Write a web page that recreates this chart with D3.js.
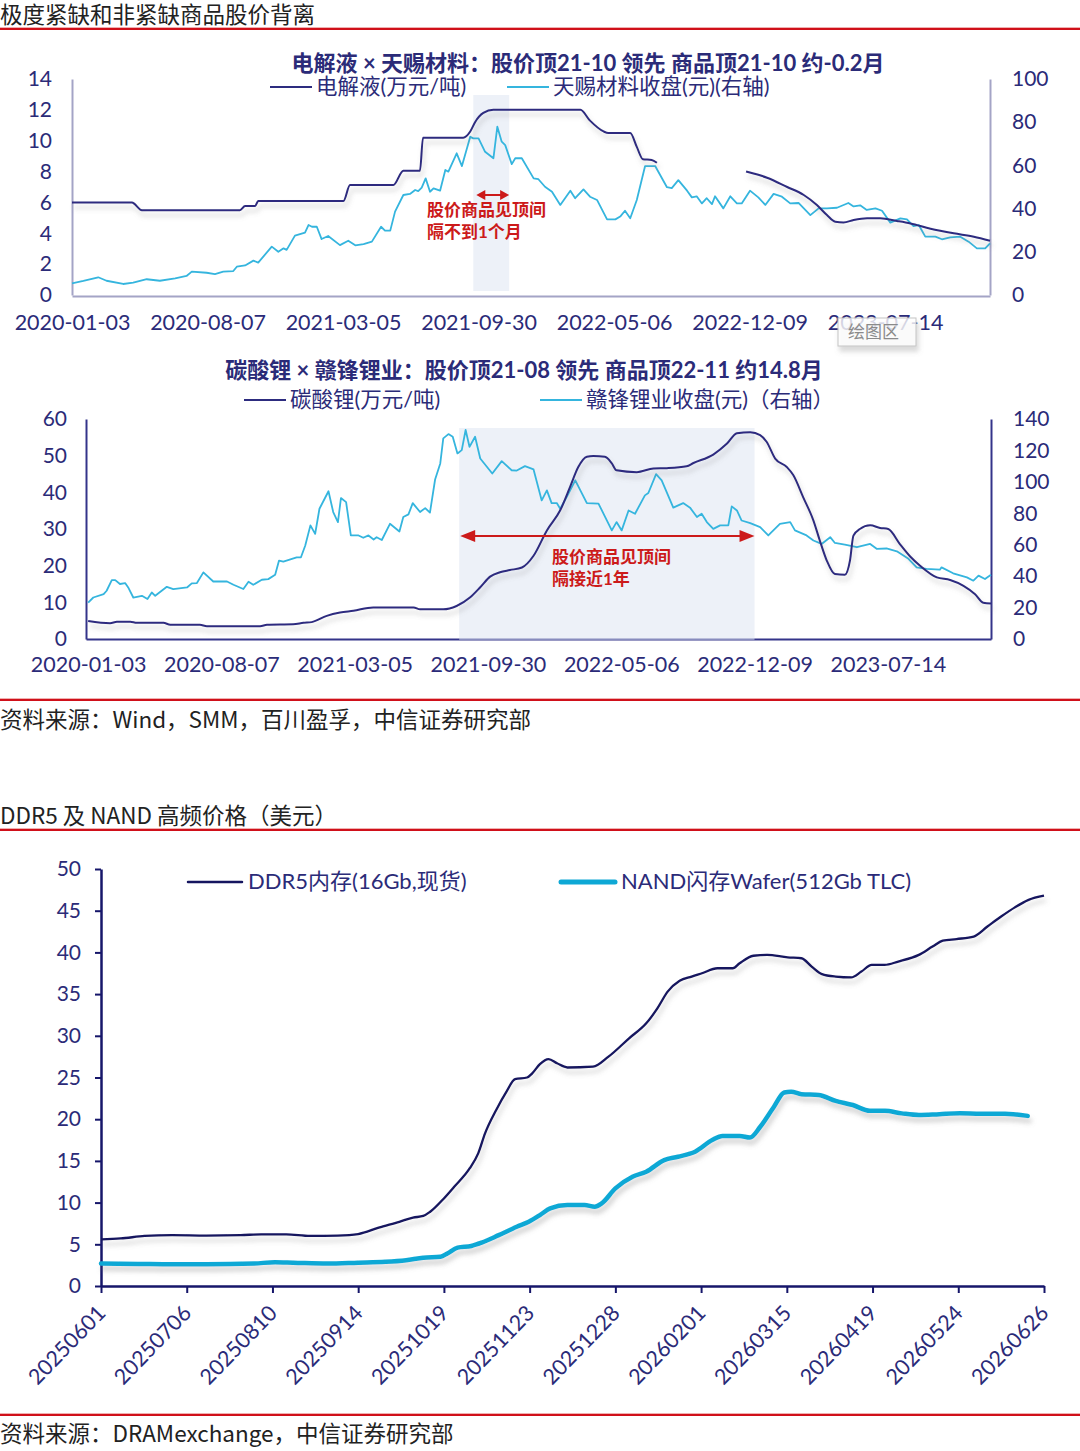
<!DOCTYPE html>
<html>
<head>
<meta charset="utf-8">
<script src="https://cdn.jsdelivr.net/npm/d3@7"></script>
<style>
body { margin: 0; background: #fff; }
svg { display: block; font-family: Lato, "Noto Sans CJK SC", sans-serif; }
</style>
</head>
<body>
<svg id="svg"></svg>
<script>
// ---- data ----
// weekly axis (weeks since 2020-01-03)
var tickWeeks = [0, 31, 62, 93, 124, 155, 186];
var tickDates = ["2020-01-03", "2020-08-07", "2021-03-05", "2021-09-30", "2022-05-06", "2022-12-09", "2023-07-14"];

// 电解液 (万元/吨), left axis ; null = gap in the series
var elecWeek = [0, 13.7, 16.0, 38.4, 39.6, 41.9, 42.6, 62.1, 63.6, 73.5, 75.8, 79.6, 80.3, 89.5, 91.1, 92.2, 94.1, 96.4, 116.3, 118.5, 121.6, 122.7, 127.7, 129.2, 130.6, 132.6, 133.8, 144, 154.2, 159.0, 163.6, 167.4, 170.4, 172.7, 174.6, 176.5, 178.8, 181.9, 184.9, 188.7, 191.8, 196.4, 201.7, 206.3, 210];
var elecVal = [6.0, 6.0, 5.5, 5.5, 5.77, 5.77, 6.1, 6.1, 7.13, 7.13, 8.06, 8.06, 10.2, 10.2, 10.6, 11.2, 11.8, 12.0, 12.0, 11.3, 10.6, 10.5, 10.5, 9.6, 8.8, 8.75, 8.57, null, 8.0, 7.6, 7.0, 6.48, 5.83, 5.18, 4.75, 4.7, 4.86, 4.97, 4.97, 4.8, 4.64, 4.3, 4.0, 3.78, 3.52];

// 天赐材料收盘 (元), right axis
var tinciWeek = [0, 2.6, 6.0, 7.9, 11.7, 14.0, 17.1, 20.1, 23.6, 26.2,
	27.4, 30.8, 32.7, 34.6, 36.9, 37.7, 39.6, 41.5, 42.6, 45.7,
	47.2, 48.4, 49.1, 51.0, 53.3, 54.1, 54.9, 56.0, 57.1, 58.6,
	61.3, 63.2, 64.8, 66.7, 68.6, 70.7, 71.6, 72.8, 73.9, 75.8,
	77.3, 78.5, 79.2, 80.0, 80.9, 81.9, 82.7, 84.2, 85.4, 86.1,
	88.0, 89.2, 91.1, 91.8, 93.0, 94.5, 96.4, 97.3, 98.3, 99.1,
	100.6, 101.4, 102.9, 105.6, 106.7, 108.2, 109.8, 111.7, 114.0, 115.1,
	117.0, 118.5, 120.1, 122.4, 124.3, 125.4, 126.5, 127.7, 129.2, 131.1,
	133.4, 136.1, 137.2, 138.7, 140.7, 141.8, 142.9, 144.1, 145.2, 146.4,
	147.1, 149.0, 150.6, 152.1, 153.2, 155.1, 157.0, 158.6, 160.5, 162.4,
	164.3, 166.2, 168.9, 170.8, 172.7, 175.0, 177.6, 178.8, 180.3, 181.8,
	183.8, 185.3, 187.2, 189.5, 191.0, 192.5, 193.7, 195.2, 197.5, 199.0,
	200.9, 203.2, 205.1, 207.0, 208.9, 210];
var tinciVal = [5.4, 6.5, 8.2, 6.6, 5.1, 5.7, 7.3, 6.6, 7.7, 8.8,
	10.8, 10.3, 9.7, 10.8, 11.1, 13.1, 13.7, 15.9, 15.0, 22.4,
	20.0, 21.6, 20.9, 27.5, 28.9, 32.4, 31.6, 31.6, 25.9, 27.3,
	23.1, 25.1, 23.0, 23.6, 24.7, 31.6, 29.8, 29.8, 38.6, 46.3,
	46.8, 48.6, 48.1, 49.7, 54.0, 47.8, 49.4, 48.3, 57.9, 57.1,
	65.6, 59.7, 73.3, 72.5, 72.5, 66.3, 63.3, 77.9, 71.0, 69.4,
	60.6, 63.3, 63.3, 54.0, 53.6, 50.1, 47.8, 41.7, 48.3, 44.8,
	48.9, 45.5, 44.0, 35.0, 35.0, 36.3, 39.0, 35.5, 44.0, 59.7,
	59.7, 49.9, 49.5, 53.2, 48.3, 45.2, 45.7, 42.4, 44.8, 42.1,
	45.7, 40.1, 45.7, 42.4, 42.4, 48.3, 45.2, 41.7, 46.8, 45.5,
	42.4, 42.6, 37.0, 40.1, 40.1, 40.4, 42.6, 41.0, 41.5, 39.4,
	40.1, 39.0, 33.5, 35.5, 35.0, 31.9, 32.4, 27.0, 27.0, 25.8,
	26.7, 27.0, 24.7, 21.6, 21.6, 23.9];

// 碳酸锂 (万元/吨), left axis
var liWeek = [0, 5.1, 6.7, 9.8, 11.3, 17.5, 19.1, 26.0, 27.6, 40.0,
	41.6, 47.7, 50.1, 52.0, 55.5, 58.6, 61.7, 66.3, 75.7, 77.2,
	82.6, 85.7, 88.8, 91.2, 93.5, 95.8, 98.1, 100.9, 103.6, 106.7,
	109.8, 112.1, 114.0, 116.0, 117.5, 120.2, 121.8, 122.9, 127.6, 131.5,
	134.6, 139.2, 140.8, 145.4, 148.6, 150.9, 154.0, 156.3, 157.8, 159.8,
	162.5, 164.0, 166.3, 168.7, 170.2, 171.8, 173.7, 176.0, 177.2, 178.0,
	179.5, 181.9, 184.2, 186.1, 188.8, 191.2, 193.5, 197.4, 200.5, 203.6,
	206.3, 208.2, 210];
var liVal = [4.9, 4.3, 4.7, 4.7, 4.4, 4.4, 3.9, 3.9, 3.5, 3.5,
	3.9, 4.0, 4.4, 4.6, 6.3, 7.2, 7.7, 8.6, 8.6, 8.1,
	8.1, 9.0, 11.3, 14.1, 17.0, 18.2, 18.8, 19.5, 22.7, 29.6,
	35.1, 41.5, 46.9, 49.7, 49.9, 49.7, 47.9, 46.0, 45.5, 46.5,
	46.6, 47.1, 48.0, 50.3, 53.3, 56.1, 56.4, 55.6, 53.8, 49.2,
	46.9, 44.7, 38.7, 32.3, 26.8, 21.4, 17.7, 17.5, 21.4, 28.2,
	30.0, 31.0, 30.3, 30.0, 25.9, 22.5, 20.0, 16.8, 16.1, 14.5,
	12.2, 9.9, 9.7];

// 赣锋锂业收盘 (元), right axis
var gfWeek = [0, 1.2, 3.6, 4.3, 5.5, 6.3, 7.4, 8.6, 9.4, 10.5,
	12.5, 13.8, 14.8, 15.6, 18.3, 19.8, 23.0, 24.1, 25.3, 26.8,
	29.1, 32.3, 33.8, 36.1, 37.3, 38.4, 40.4, 41.9, 43.5, 44.4,
	45.4, 48.5, 49.5, 50.5, 51.7, 52.8, 53.8, 55.9, 57.0, 58.1,
	58.8, 60.0, 61.1, 62.9, 64.0, 65.2, 66.4, 67.1, 68.3, 70.2,
	72.4, 73.3, 74.5, 75.5, 77.2, 78.4, 79.5, 80.7, 81.9, 82.6,
	83.8, 84.8, 85.9, 86.9, 87.8, 88.7, 90.0, 91.2, 94.0, 96.2,
	98.5, 99.7, 101.6, 103.6, 105.5, 106.7, 107.8, 109.0, 109.8, 111.3,
	113.3, 116.0, 118.7, 121.8, 122.9, 124.1, 125.7, 127.2, 129.5, 130.3,
	132.1, 133.4, 136.1, 138.4, 140.0, 141.6, 142.7, 143.9, 145.4, 147.0,
	148.9, 149.7, 150.9, 152.0, 154.0, 156.3, 158.2, 160.9, 163.3, 164.4,
	167.1, 168.7, 170.6, 172.6, 173.7, 176.0, 178.8, 181.9, 183.4, 185.7,
	188.1, 190.8, 192.7, 195.0, 198.1, 198.5, 201.2, 204.4, 205.9, 207.1,
	208.6, 210];
var gfVal = [23.2, 26.4, 28.6, 30.7, 37.5, 37.5, 35.0, 35.6, 32.4, 26.4,
	27.5, 25.4, 29.6, 27.5, 33.2, 31.8, 32.8, 35.4, 35.6, 42.4,
	36.6, 36.6, 34.5, 31.8, 36.4, 34.5, 37.7, 38.1, 40.9, 49.9,
	49.2, 52.0, 52.0, 59.5, 72.3, 66.9, 82.9, 94.0, 80.8, 74.4,
	89.7, 87.1, 65.9, 65.9, 64.4, 65.9, 63.3, 64.8, 63.0, 73.3,
	68.4, 77.6, 79.3, 86.5, 80.8, 83.3, 80.4, 101.5, 111.7, 127.7,
	130.4, 128.7, 118.1, 120.2, 133.0, 122.3, 128.7, 114.9, 105.3, 113.2,
	107.4, 107.2, 110.0, 107.9, 88.2, 94.6, 86.5, 86.5, 82.9, 90.3,
	101.0, 86.5, 86.2, 69.1, 74.4, 69.1, 81.8, 79.7, 91.4, 92.9,
	104.9, 101.0, 83.6, 86.5, 83.6, 77.6, 79.7, 74.4, 70.1, 72.3,
	72.3, 84.4, 81.8, 75.4, 73.7, 71.2, 65.9, 73.3, 74.4, 69.1,
	65.9, 62.7, 60.5, 64.8, 61.1, 60.1, 58.4, 60.5, 57.4, 57.6,
	55.8, 51.0, 45.6, 44.6, 44.1, 45.6, 41.8, 39.2, 37.1, 40.3,
	38.2, 40.9];

// peak-gap periods (weeks)
var gap1 = [91.8, 100];
var gap2 = [86.3, 155];

// DDR5 / NAND, x in tick units (0 = 20250601 ... 11 = 20260626)
var memDates = ["20250601", "20250706", "20250810", "20250914", "20251019", "20251123", "20251228", "20260201", "20260315", "20260419", "20260524", "20260626"];
var ddrPos = [0, 0.23, 0.51, 0.83, 1.23, 1.63, 1.87, 2.16, 2.44, 2.76,
	3.0, 3.24, 3.48, 3.64, 3.76, 3.84, 4.0, 4.12, 4.30, 4.40,
	4.48, 4.61, 4.73, 4.83, 4.97, 5.03, 5.12, 5.22, 5.32, 5.44,
	5.74, 5.92, 6.16, 6.36, 6.49, 6.61, 6.75, 6.89, 7.01, 7.19,
	7.37, 7.45, 7.61, 7.77, 8.01, 8.17, 8.29, 8.41, 8.57, 8.75,
	8.87, 8.99, 9.14, 9.30, 9.54, 9.70, 9.82, 9.98, 10.18, 10.34,
	10.50, 10.66, 10.82, 11.0];
var ddrVal = [5.6, 5.7, 6.0, 6.1, 6.05, 6.1, 6.2, 6.2, 6.0, 6.05,
	6.23, 7.0, 7.7, 8.2, 8.4, 8.9, 10.5, 11.9, 14.1, 15.9,
	18.3, 21.1, 23.3, 24.8, 25.0, 25.5, 26.6, 27.2, 26.7, 26.2,
	26.3, 27.5, 29.7, 31.5, 33.3, 35.3, 36.6, 37.1, 37.5, 38.1,
	38.1, 38.7, 39.6, 39.7, 39.4, 39.3, 38.3, 37.4, 37.1, 37.0,
	37.7, 38.5, 38.5, 38.9, 39.7, 40.7, 41.4, 41.6, 41.9, 43.1,
	44.3, 45.4, 46.3, 46.8];
var nandPos = [0, 0.43, 0.83, 1.23, 1.79, 2.03, 2.24, 2.64, 3.0, 3.32,
	3.56, 3.76, 3.96, 4.04, 4.16, 4.32, 4.44, 4.64, 4.85, 4.99,
	5.12, 5.24, 5.44, 5.64, 5.76, 5.84, 6.0, 6.20, 6.36, 6.57,
	6.73, 6.93, 7.13, 7.25, 7.45, 7.57, 7.69, 7.85, 7.97, 8.05,
	8.17, 8.37, 8.57, 8.77, 8.97, 9.14, 9.34, 9.54, 9.78, 10.02,
	10.26, 10.54, 10.81];
var nandVal = [2.7, 2.65, 2.6, 2.6, 2.7, 2.85, 2.8, 2.7, 2.8, 2.9,
	3.1, 3.4, 3.5, 3.9, 4.6, 4.8, 5.2, 6.1, 7.1, 7.7,
	8.5, 9.3, 9.7, 9.7, 9.5, 9.9, 11.7, 13.1, 13.7, 15.1,
	15.5, 16.1, 17.5, 18.0, 18.0, 17.8, 19.1, 21.5, 23.2, 23.3,
	23.0, 22.9, 22.2, 21.7, 21.0, 21.0, 20.7, 20.5, 20.6, 20.7,
	20.65, 20.65, 20.4];

// ---- drawing ----
var FONT = 'Lato, "Noto Sans CJK SC", sans-serif';
var CJK = '"Noto Sans CJK SC", sans-serif';
var txtNavy = "#2b2b78", lineNavy = "#2d2c7f", lineCyan = "#35b5de", red = "#cc1a1a";

var svg = d3.select("#svg")
	.attr("width", 1080)
	.attr("height", 1451);

var defs = svg.append("defs");
defs.append("filter")
	.attr("id", "shadow")
	.attr("filterUnits", "userSpaceOnUse")
	.attr("x", 0).attr("y", 0).attr("width", 1080).attr("height", 1451)
	.append("feDropShadow")
	.attr("dx", 2).attr("dy", 5).attr("stdDeviation", 2.5)
	.attr("flood-color", "#777").attr("flood-opacity", 0.35);

function header(yText, yLine, text)
{
	svg.append("text")
		.attr("x", 0)
		.attr("y", yText)
		.attr("font-family", CJK)
		.attr("font-size", 22.5)
		.attr("fill", "#222")
		.text(text);
	if (yLine != null) redRule(yLine);
}

function redRule(y)
{
	svg.append("line")
		.attr("x1", 0).attr("x2", 1080)
		.attr("y1", y - 1.5).attr("y2", y - 1.5)
		.attr("stroke", "#f0b0b0").attr("stroke-width", 1);
	svg.append("line")
		.attr("x1", 0).attr("x2", 1080)
		.attr("y1", y).attr("y2", y)
		.attr("stroke", "#d0101a").attr("stroke-width", 2);
}

function styleAxis(g, color, size)
{
	g.attr("font-family", FONT).attr("font-size", size);
	g.select(".domain").attr("stroke", color).attr("stroke-width", 2);
	g.selectAll(".tick line").attr("stroke", color).attr("stroke-width", 2);
	g.selectAll(".tick text").attr("fill", txtNavy);
}

function series(xs, ys)
{
	return xs.map(function(d, i) { return [d, ys[i]]; });
}

function dualChart(c)
{
	var x = d3.scaleLinear().domain(c.xDomain).range([c.left, c.right]);
	var yL = d3.scaleLinear().domain([0, c.lMax]).range([c.bottom, c.top]);
	var yR = d3.scaleLinear().domain([0, c.rMax]).range([c.bottom, c.top]);

	svg.append("g")
		.attr("transform", "translate(0," + c.axisY + ")")
		.call(d3.axisBottom(x).tickValues(tickWeeks)
			.tickFormat(function(d) { return tickDates[tickWeeks.indexOf(d)]; })
			.tickSize(0).tickPadding(c.xPad))
		.call(styleAxis, c.axisColor, 21.5);

	svg.append("g")
		.attr("transform", "translate(" + c.left + ",0)")
		.call(d3.axisLeft(yL).tickValues(d3.range(0, c.lMax + 1, c.lStep)).tickSize(0).tickPadding(c.lPad))
		.call(styleAxis, c.axisColor, 21);

	svg.append("g")
		.attr("transform", "translate(" + c.right + ",0)")
		.call(d3.axisRight(yR).tickValues(d3.range(0, c.rMax + 1, c.rStep)).tickSize(0).tickPadding(22))
		.call(styleAxis, c.axisColor, 21);

	// peak gap shading
	svg.append("rect")
		.attr("x", x(c.gap[0]))
		.attr("y", c.shadeTop)
		.attr("width", x(c.gap[1]) - x(c.gap[0]))
		.attr("height", c.shadeBottom - c.shadeTop)
		.attr("fill", "#dbe3f1")
		.attr("opacity", 0.5);

	var lineL = d3.line()
		.defined(function(d) { return d[1] != null; })
		.x(function(d) { return x(d[0]); })
		.y(function(d) { return yL(d[1]); })
		.curve(d3.curveMonotoneX);
	var lineR = d3.line()
		.x(function(d) { return x(d[0]); })
		.y(function(d) { return yR(d[1]); });

	svg.append("path")
		.datum(c.right1)
		.attr("d", lineR)
		.attr("fill", "none")
		.attr("stroke", lineCyan)
		.attr("stroke-width", 1.8)
		.attr("stroke-linejoin", "round");

	svg.append("path")
		.datum(c.left1)
		.attr("d", lineL)
		.attr("fill", "none")
		.attr("stroke", lineNavy)
		.attr("stroke-width", 2)
		.attr("filter", "url(#shadow)");

	// title + legend
	svg.append("text")
		.attr("x", c.titleX).attr("y", c.titleY)
		.attr("text-anchor", "middle")
		.attr("font-family", FONT)
		.attr("font-weight", "bold")
		.attr("font-size", 22)
		.attr("fill", txtNavy)
		.text(c.title);

	c.legend.forEach(function(l)
	{
		svg.append("line")
			.attr("x1", l.x1).attr("x2", l.x2)
			.attr("y1", c.legendY - 5).attr("y2", c.legendY - 5)
			.attr("stroke", l.color).attr("stroke-width", 2);
		svg.append("text")
			.attr("x", l.x2 + 4).attr("y", c.legendY + 2)
			.attr("font-family", FONT)
			.attr("font-size", 21.5)
			.attr("fill", txtNavy)
			.text(l.text);
	});

	// red arrow between the two peaks
	var ax0 = x(c.gap[0]) + c.arrowInset, ax1 = x(c.gap[1]), ay = c.arrowY, h = c.head;
	svg.append("line")
		.attr("x1", ax0 + h[0] - 1).attr("x2", ax1 - h[0] + 1)
		.attr("y1", ay).attr("y2", ay)
		.attr("stroke", red).attr("stroke-width", 2);
	svg.append("path")
		.attr("d", "M" + ax0 + "," + ay + "l" + h[0] + "," + (-h[1]) + "v" + (2 * h[1]) + "z"
			+ "M" + ax1 + "," + ay + "l" + (-h[0]) + "," + (-h[1]) + "v" + (2 * h[1]) + "z")
		.attr("fill", red);

	c.note.forEach(function(t, i)
	{
		svg.append("text")
			.attr("x", c.noteX).attr("y", c.noteY + i * 22)
			.attr("font-family", FONT)
			.attr("font-weight", "bold")
			.attr("font-size", 17)
			.attr("fill", red)
			.text(t);
	});
}

// ---- section 1 ----
header(23, 29, "极度紧缺和非紧缺商品股价背离");

dualChart({
	xDomain: [0, 210], left: 72, right: 990, top: 79, bottom: 295, axisY: 296,
	lMax: 14, lStep: 2, rMax: 100, rStep: 20, lPad: 20, xPad: 19,
	axisColor: "#a4a4c6",
	gap: gap1, shadeTop: 95, shadeBottom: 291,
	left1: series(elecWeek, elecVal), right1: series(tinciWeek, tinciVal),
	title: "电解液 × 天赐材料：股价顶21-10 领先 商品顶21-10 约-0.2月", titleX: 588, titleY: 71,
	legendY: 92,
	legend: [{x1: 270, x2: 312, color: lineNavy, text: "电解液(万元/吨)"},
		{x1: 507, x2: 549, color: lineCyan, text: "天赐材料收盘(元)(右轴)"}],
	arrowInset: 3, arrowY: 195, head: [9, 5],
	note: ["股价商品见顶间", "隔不到1个月"], noteX: 427, noteY: 216
});

// excel tooltip left in the screenshot
svg.append("rect")
	.attr("x", 838).attr("y", 318).attr("width", 78).attr("height", 28)
	.attr("fill", "#fff").attr("fill-opacity", 0.78)
	.attr("stroke", "#c4c4c4")
	.attr("filter", "url(#shadow)");
svg.append("text")
	.attr("x", 848).attr("y", 338)
	.attr("font-family", CJK)
	.attr("font-size", 17)
	.attr("fill", "#8a8a8a")
	.text("绘图区");

dualChart({
	xDomain: [-0.5, 210], left: 86, right: 991, top: 419, bottom: 639, axisY: 639,
	lMax: 60, lStep: 10, rMax: 140, rStep: 20, lPad: 19, xPad: 18,
	axisColor: "#34348a",
	gap: gap2, shadeTop: 428, shadeBottom: 640,
	left1: series(liWeek, liVal), right1: series(gfWeek, gfVal),
	title: "碳酸锂 × 赣锋锂业：股价顶21-08 领先 商品顶22-11 约14.8月", titleX: 524, titleY: 378,
	legendY: 405,
	legend: [{x1: 244, x2: 286, color: lineNavy, text: "碳酸锂(万元/吨)"},
		{x1: 540, x2: 582, color: lineCyan, text: "赣锋锂业收盘(元)（右轴）"}],
	arrowInset: 1, arrowY: 536, head: [15, 6],
	note: ["股价商品见顶间", "隔接近1年"], noteX: 552, noteY: 563
});

redRule(700);
header(728, null, "资料来源：Wind，SMM，百川盈孚，中信证券研究部");

// ---- section 2 ----
header(824, 830, "DDR5 及 NAND 高频价格（美元）");

var x3 = d3.scaleLinear().domain([0, 11]).range([101, 1044]);
var y3 = d3.scaleLinear().domain([0, 50]).range([1286, 869]);
var memAxis = "#16166a";

svg.append("g")
	.attr("transform", "translate(101,0)")
	.call(d3.axisLeft(y3).tickValues(d3.range(0, 51, 5)).tickSize(6).tickSizeOuter(0).tickPadding(14))
	.call(styleAxis, memAxis, 21)
	.select(".domain").attr("stroke-width", 2.5);

var xAx3 = svg.append("g")
	.attr("transform", "translate(0,1286)")
	.call(d3.axisBottom(x3).tickValues(d3.range(0, 12)).tickSize(7).tickSizeOuter(0)
		.tickFormat(function(d) { return memDates[d]; }))
	.call(styleAxis, memAxis, 21.5);
xAx3.select(".domain").attr("stroke-width", 2.5);
xAx3.selectAll(".tick text")
	.attr("text-anchor", "end")
	.attr("x", 0).attr("y", 0).attr("dy", "0.35em")
	.attr("transform", "translate(0,23) rotate(-46)");

var line3 = d3.line()
	.x(function(d) { return x3(d[0]); })
	.y(function(d) { return y3(d[1]); })
	.curve(d3.curveMonotoneX);

svg.append("path")
	.datum(series(nandPos, nandVal))
	.attr("d", line3)
	.attr("fill", "none")
	.attr("stroke", "#0ea8d5")
	.attr("stroke-width", 4.5)
	.attr("stroke-linecap", "round")
	.attr("filter", "url(#shadow)");

svg.append("path")
	.datum(series(ddrPos, ddrVal))
	.attr("d", line3)
	.attr("fill", "none")
	.attr("stroke", "#15155f")
	.attr("stroke-width", 2.3)
	.attr("filter", "url(#shadow)");

var memLegend = [{x1: 188, x2: 242, color: "#15155f", w: 2.5, text: "DDR5内存(16Gb,现货)"},
	{x1: 561, x2: 615, color: "#0ea8d5", w: 5, text: "NAND闪存Wafer(512Gb TLC)"}];
memLegend.forEach(function(l)
{
	svg.append("line")
		.attr("x1", l.x1).attr("x2", l.x2)
		.attr("y1", 882).attr("y2", 882)
		.attr("stroke", l.color).attr("stroke-width", l.w)
		.attr("stroke-linecap", "round");
	svg.append("text")
		.attr("x", l.x2 + 6).attr("y", 889)
		.attr("font-family", FONT)
		.attr("font-size", 22)
		.attr("fill", txtNavy)
		.text(l.text);
});

redRule(1415);
header(1442, null, "资料来源：DRAMexchange，中信证券研究部");
</script>
</body>
</html>
